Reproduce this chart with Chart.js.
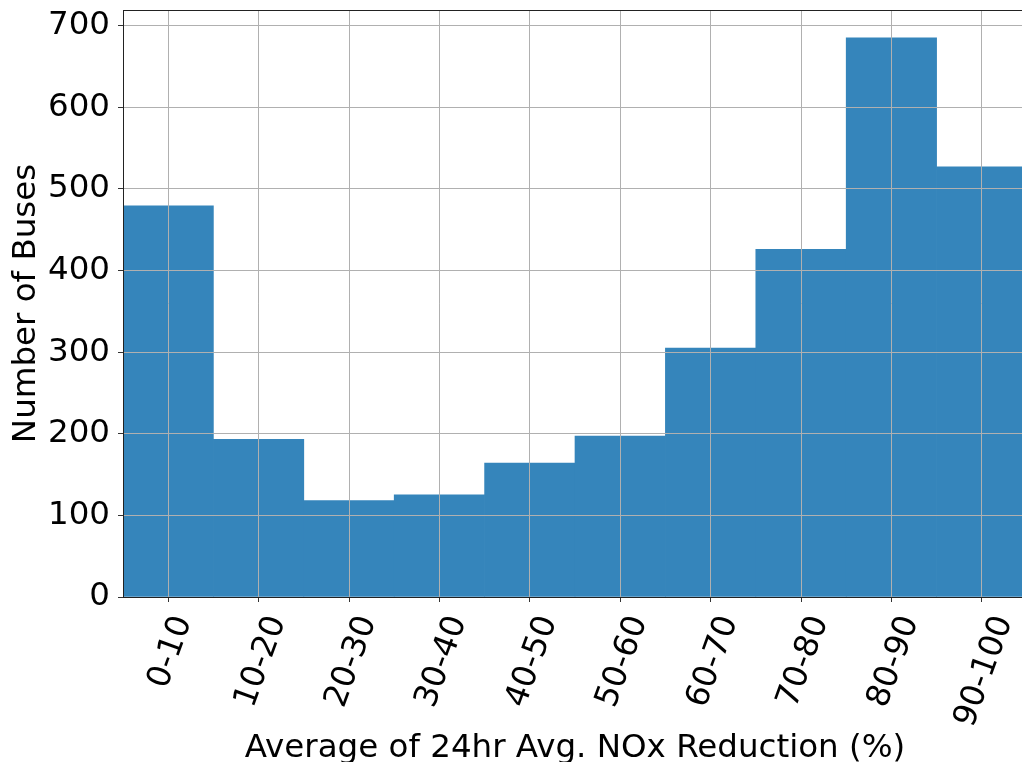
<!DOCTYPE html>
<html>
<head>
<meta charset="utf-8">
<title>Average of 24hr Avg. NOx Reduction</title>
<script src="https://cdn.jsdelivr.net/npm/chart.js@4.4.1/dist/chart.umd.min.js"></script>
<style>
  html, body { margin: 0; padding: 0; background: #fff; overflow: hidden; }
  canvas { display: block; }
</style>
</head>
<body>
<canvas id="noxChart" width="1030" height="762"></canvas>
<script>
// Histogram bins and bus counts
const bins = ["0-10", "10-20", "20-30", "30-40", "40-50", "50-60", "60-70", "70-80", "80-90", "90-100"];
const buses = [479, 193, 118, 125, 164, 197, 305, 426, 685, 527];
const yTicks = [0, 100, 200, 300, 400, 500, 600, 700];

const FONT = "'DejaVu Sans', sans-serif";
const SIZE = 32.5;

// draw grid on top of the bars, then the frame and the rotated x labels
const overlay = {
  id: "overlay",
  afterDatasetsDraw(chart) {
    const area = chart.chartArea;
    chart.scales.x.drawGrid(area);
    chart.scales.y.drawGrid(area);
  },
  afterDraw(chart) {
    const ctx = chart.ctx;
    const area = chart.chartArea;
    const xs = chart.scales.x;
    ctx.save();
    ctx.strokeStyle = "#222";
    ctx.lineWidth = 1;
    ctx.strokeRect(Math.round(area.left) + 0.5, Math.round(area.top) + 0.5,
      Math.round(area.right - area.left), Math.round(area.bottom - area.top));

    // x tick labels, rotated 70deg and centered under the tick like matplotlib
    ctx.font = SIZE + "px " + FONT;
    ctx.fillStyle = "#000";
    ctx.textAlign = "center";
    ctx.textBaseline = "alphabetic";
    const ang = 70 * Math.PI / 180;
    const h = SIZE * 1.164;
    const top = area.bottom + 13;
    bins.forEach((lab, i) => {
      const x = xs.getPixelForTick(i);
      const w = ctx.measureText(lab).width;
      const bh = w * Math.sin(ang) + h * Math.cos(ang);
      ctx.save();
      ctx.translate(x, top + bh / 2);
      ctx.rotate(-ang);
      ctx.fillText(lab, 0, SIZE * 0.346);
      ctx.restore();
    });
    ctx.restore();
  }
};

new Chart(document.getElementById("noxChart"), {
  type: "bar",
  data: {
    labels: bins,
    datasets: [{
      data: buses,
      backgroundColor: "#3585bb",
      borderWidth: 0,
      barPercentage: 1,
      categoryPercentage: 1
    }]
  },
  options: {
    responsive: false,
    animation: false,
    devicePixelRatio: 1,
    layout: { padding: { top: 10, right: 3, left: 0, bottom: 0 } },
    plugins: { legend: { display: false }, tooltip: { enabled: false } },
    scales: {
      x: {
        offset: true,
        grid: { offset: false, color: "#b0b0b0", lineWidth: 1, tickLength: 5, tickColor: "#333" },
        border: { display: false },
        ticks: { display: false },
        title: {
          display: true,
          text: "Average of 24hr Avg. NOx Reduction (%)",
          color: "#000",
          font: { family: FONT, size: SIZE, lineHeight: 1 },
          padding: { top: 0, bottom: -3 }
        },
        afterFit(s) { s.height = 165; s.paddingLeft = 0; s.paddingRight = 0; }
      },
      y: {
        min: 0,
        max: 719,
        grid: { color: "#b0b0b0", lineWidth: 1, tickLength: 5, tickColor: "#333" },
        border: { display: false },
        ticks: {
          stepSize: 100,
          padding: 8,
          color: "#000",
          font: { family: FONT, size: SIZE }
        },
        afterBuildTicks(s) { s.ticks = yTicks.map(v => ({ value: v })); },
        title: {
          display: true,
          text: "Number of Buses",
          color: "#000",
          font: { family: FONT, size: SIZE, lineHeight: 1 },
          padding: { top: 10, bottom: 0 }
        },
        afterFit(s) { s.width = 123; s.paddingTop = 0; s.paddingBottom = 0; }
      }
    }
  },
  plugins: [overlay]
});
</script>
</body>
</html>
